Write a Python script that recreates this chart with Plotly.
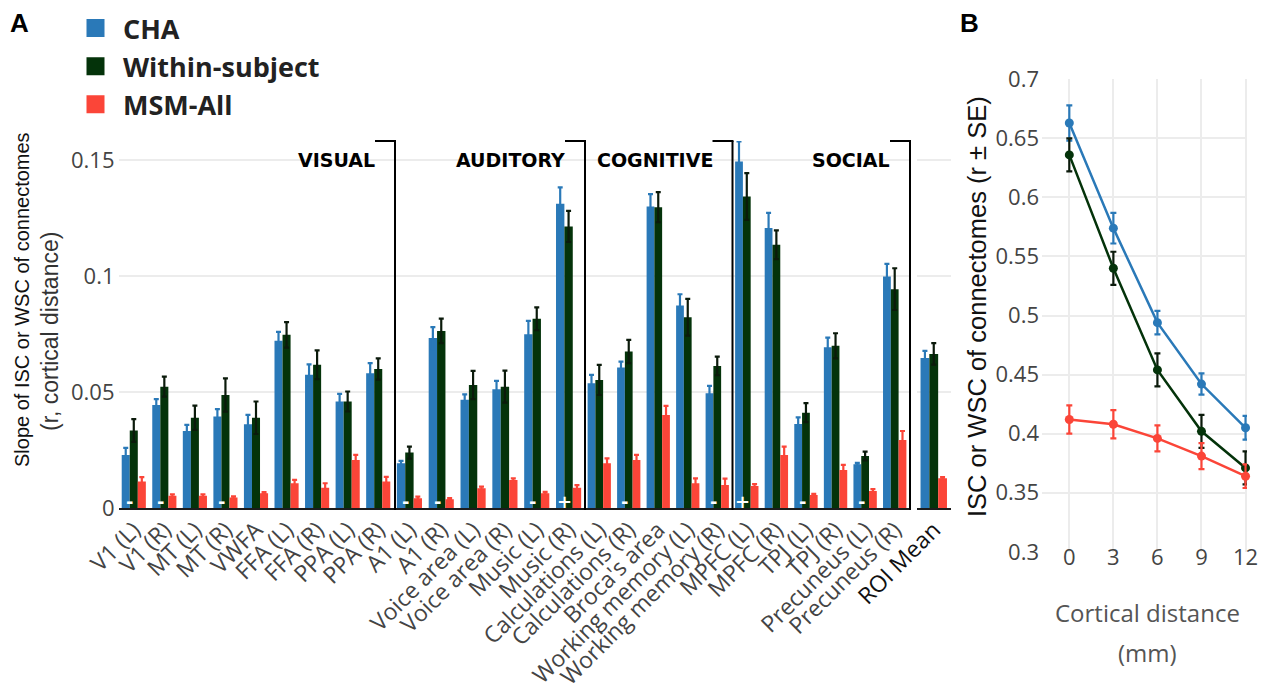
import plotly.graph_objects as go

W, H = 1269, 692

# ---- Panel A: slope of ISC/WSC of connectomes per ROI ----
visual_rois = ["V1 (L)", "V1 (R)", "MT (L)", "MT (R)", "VWFA", "FFA (L)", "FFA (R)", "PPA (L)", "PPA (R)"]
auditory_rois = ["A1 (L)", "A1 (R)", "Voice area (L)", "Voice area (R)", "Music (L)", "Music (R)"]
cognitive_rois = ["Calculations (L)", "Calculations (R)", "Broca's area", "Working memory (L)", "Working memory (R)"]
social_rois = ["MPFC (L)", "MPFC (R)", "TPJ (L)", "TPJ (R)", "Precuneus (L)", "Precuneus (R)"]
mean_roi = ["ROI Mean"]

# values follow the ROI order above: visual, auditory, cognitive, social, mean
cha_slope = [0.0230, 0.0445, 0.0333, 0.0395, 0.0362, 0.0722, 0.0575, 0.0460, 0.0582,
             0.0194, 0.0733, 0.0467, 0.0513, 0.0750, 0.1312,
             0.0539, 0.0606, 0.1300, 0.0873, 0.0496,
             0.1494, 0.1207, 0.0363, 0.0694, 0.0190, 0.0998,
             0.0647]
cha_slope_se = [0.0030, 0.0025, 0.0026, 0.0032, 0.0040, 0.0038, 0.0045, 0.0033, 0.0043,
                0.0010, 0.0047, 0.0024, 0.0036, 0.0057, 0.0070,
                0.0036, 0.0026, 0.0053, 0.0049, 0.0031,
                0.0086, 0.0065, 0.0029, 0.0041, 0.0006, 0.0055,
                0.0031]
within_slope = [0.0335, 0.0524, 0.0390, 0.0488, 0.0390, 0.0747, 0.0618, 0.0460, 0.0600,
                0.0240, 0.0764, 0.0531, 0.0524, 0.0816, 0.1214,
                0.0553, 0.0675, 0.1297, 0.0823, 0.0613,
                0.1343, 0.1135, 0.0412, 0.0700, 0.0225, 0.0944,
                0.0665]
within_slope_se = [0.0049, 0.0043, 0.0052, 0.0072, 0.0070, 0.0055, 0.0062, 0.0043, 0.0046,
                   0.0026, 0.0053, 0.0061, 0.0069, 0.0049, 0.0067,
                   0.0065, 0.0050, 0.0065, 0.0079, 0.0040,
                   0.0101, 0.0062, 0.0041, 0.0054, 0.0019, 0.0090,
                   0.0046]
msm_slope = [0.0115, 0.0054, 0.0054, 0.0047, 0.0065, 0.0108, 0.0089, 0.0208, 0.0115,
             0.0043, 0.0039, 0.0086, 0.0122, 0.0065, 0.0089,
             0.0194, 0.0208, 0.0402, 0.0108, 0.0100,
             0.0096, 0.0230, 0.0057, 0.0165, 0.0075, 0.0294,
             0.0129]
msm_slope_se = [0.0019, 0.0006, 0.0006, 0.0005, 0.0005, 0.0014, 0.0019, 0.0022, 0.0020,
                0.0007, 0.0005, 0.0007, 0.0007, 0.0006, 0.0011,
                0.0021, 0.0022, 0.0039, 0.0021, 0.0028,
                0.0008, 0.0036, 0.0005, 0.0022, 0.0008, 0.0039,
                0.0005]
# CHA vs within-subject difference markers
cha_within_mark = ["-", "-", "", "-", "", "", "", "", "",
                   "-", "-", "", "", "-", "+",
                   "", "-", "", "", "-",
                   "+", "", "-", "", "-", "",
                   ""]

# ---- Panel B: connectome similarity by cortical distance ----
distance_mm = [0, 3, 6, 9, 12]
cha_r = [0.663, 0.574, 0.494, 0.442, 0.405]
cha_r_se = [0.015, 0.013, 0.010, 0.009, 0.010]
within_r = [0.636, 0.540, 0.454, 0.402, 0.371]
within_r_se = [0.014, 0.014, 0.014, 0.014, 0.014]
msm_r = [0.412, 0.408, 0.396, 0.381, 0.364]
msm_r_se = [0.012, 0.012, 0.011, 0.011, 0.010]

BLUE = "#2a79b8"
GREEN = "#04330a"
GREEN_ERR = "#0b1a0b"
RED = "#fb4538"
GRID = "#ececec"
TICK = "#444444"


def px_x(v):
    return v / W


def px_y(v):
    return 1 - v / H


# panel A layout in pixels
A_TOP, A_BOTTOM = 141.0, 508.3
A_YMAX = 0.1582
groups = [
    (visual_rois, 118.5, 393.5, "VISUAL", 395.0),
    (auditory_rois, 393.5, 584.5, "AUDITORY", 585.0),
    (cognitive_rois, 584.5, 732.0, "COGNITIVE", 732.5),
    (social_rois, 732.0, 909.5, "SOCIAL", 910.0),
    (mean_roi, 917.0, 950.5, None, None),
]

fig = go.Figure()
layout = dict(
    width=W, height=H,
    margin=dict(l=0, r=0, t=0, b=0),
    paper_bgcolor="white", plot_bgcolor="white",
    font=dict(family="Open Sans, sans-serif", color=TICK),
    barmode="group", bargap=0.21, bargroupgap=0.0,
    showlegend=True,
)

annotations = []
shapes = []
start = 0
for gi, (labels, x0, x1, title, bracket_x) in enumerate(groups):
    n = len(labels)
    sl = slice(start, start + n)
    sfx = "" if gi == 0 else str(gi + 1)
    xa, ya = "x" + sfx, "y" + sfx
    for name, vals, errs, col, ecol in [
        ("CHA", cha_slope, cha_slope_se, BLUE, BLUE),
        ("Within-subject", within_slope, within_slope_se, GREEN, GREEN_ERR),
        ("MSM-All", msm_slope, msm_slope_se, RED, RED),
    ]:
        fig.add_trace(go.Bar(
            x=labels, y=vals[sl], name=name, xaxis=xa, yaxis=ya,
            marker=dict(color=col, line=dict(width=0)),
            error_y=dict(type="data", array=errs[sl], color=ecol, thickness=2.2, width=2.5),
            showlegend=False, legendgroup=name,
        ))
    layout["xaxis" + sfx] = dict(
        domain=[px_x(x0), px_x(x1)], anchor=ya, type="category",
        range=[-0.5, n - 0.5], showgrid=False, zeroline=False,
        showline=True, linecolor="#1c1c1c", linewidth=2,
        tickangle=-45, tickfont=dict(size=23, color="#111111" if title is None else TICK),
        ticklabelstandoff=-3,
        automargin=False, fixedrange=True,
    )
    layout["yaxis" + sfx] = dict(
        domain=[px_y(A_BOTTOM), px_y(A_TOP)], anchor=xa,
        range=[0, A_YMAX], tickvals=[0, 0.05, 0.1, 0.15],
        showticklabels=(gi == 0), tickfont=dict(size=22, color=TICK),
        ticklabelstandoff=3,
        showgrid=True, gridcolor=GRID, gridwidth=2, zeroline=False,
        automargin=False, fixedrange=True,
    )
    for k, mark in enumerate(cha_within_mark[sl]):
        if mark:
            annotations.append(dict(
                x=k - 0.13, y=0.0028, xref=xa, yref=ya, text="<b>%s</b>" % mark,
                showarrow=False,
                font=dict(size=18, color="white", family="DejaVu Sans"),
                xanchor="center", yanchor="middle",
            ))
    if title:
        shapes.append(dict(type="line", xref="paper", yref="paper",
                           x0=px_x(bracket_x), x1=px_x(bracket_x),
                           y0=px_y(A_TOP), y1=px_y(510),
                           line=dict(color="black", width=2)))
        shapes.append(dict(type="line", xref="paper", yref="paper",
                           x0=px_x(bracket_x - 20), x1=px_x(bracket_x + 1),
                           y0=px_y(A_TOP), y1=px_y(A_TOP),
                           line=dict(color="black", width=2)))
        annotations.append(dict(
            x=px_x(bracket_x - 18), y=px_y(160), xref="paper", yref="paper",
            text="<b>%s</b>" % title, showarrow=False, xanchor="right", yanchor="middle",
            font=dict(family="DejaVu Sans", size=19, color="black"),
        ))
    start += n

# legend entries (square swatches)
for name, col in [("CHA", BLUE), ("Within-subject", GREEN), ("MSM-All", RED)]:
    fig.add_trace(go.Scatter(
        x=[None], y=[None], mode="markers", name=name, legendgroup=name,
        marker=dict(symbol="square", size=16, color=col, line=dict(width=2, color=col)),
        xaxis="x6", yaxis="y6", showlegend=True,
    ))

# panel B lines
for name, vals, errs, col, ecol in [
    ("CHA", cha_r, cha_r_se, BLUE, BLUE),
    ("Within-subject", within_r, within_r_se, GREEN, GREEN_ERR),
    ("MSM-All", msm_r, msm_r_se, RED, RED),
]:
    fig.add_trace(go.Scatter(
        x=distance_mm, y=vals, mode="lines+markers", name=name,
        xaxis="x6", yaxis="y6", showlegend=False, legendgroup=name,
        line=dict(color=col, width=2.5), marker=dict(color=col, size=9),
        error_y=dict(type="data", array=errs, color=ecol, thickness=2.2, width=3),
        cliponaxis=False,
    ))

layout["xaxis6"] = dict(
    domain=[px_x(1042), px_x(1247)], anchor="y6", range=[-1.86, 12.1],
    tickvals=distance_mm, tickfont=dict(size=22, color=TICK),
    ticklabelstandoff=-10,
    showgrid=True, gridcolor=GRID, gridwidth=2, zeroline=False, showline=False,
    automargin=False, fixedrange=True,
)
layout["yaxis6"] = dict(
    domain=[px_y(551.8), px_y(79.3)], anchor="x6", range=[0.3, 0.7],
    tickvals=[0.3, 0.35, 0.4, 0.45, 0.5, 0.55, 0.6, 0.65, 0.7],
    tickfont=dict(size=22, color=TICK), ticklabelstandoff=2,
    showgrid=True, gridcolor=GRID, gridwidth=2, zeroline=False, showline=False,
    automargin=False, fixedrange=True,
)


# axis titles and panel letters
def label(x, y, text, size, color, family="Liberation Sans, Arial", angle=0):
    return dict(x=px_x(x), y=px_y(y), xref="paper", yref="paper", showarrow=False,
                xanchor="center", yanchor="middle", text=text, textangle=angle,
                font=dict(family=family, size=size, color=color))


annotations += [
    label(22, 300, "Slope of ISC or WSC of connectomes", 20, "#111111", angle=-90),
    label(50, 332, "(r, cortical distance)", 23, "#333333", angle=-90),
    label(977, 307, "ISC or WSC of connectomes (r ± SE)", 25.5, "#111111", angle=-90),
    label(1147, 612, "Cortical distance", 24, "#555555", family="Open Sans, sans-serif"),
    label(1147, 652, "(mm)", 24, "#555555", family="Open Sans, sans-serif"),
    label(19, 23, "<b>A</b>", 26, "black"),
    label(969, 23, "<b>B</b>", 26, "black"),
]

layout["annotations"] = annotations
layout["shapes"] = shapes
layout["legend"] = dict(
    x=px_x(68), y=px_y(4), xanchor="left", yanchor="top",
    font=dict(size=27, color="#222222", weight="bold"),
    bgcolor="rgba(0,0,0,0)", tracegroupgap=5.5, traceorder="normal",
    itemwidth=45,
)
fig.update_layout(**layout)
fig.write_html("out.html")
